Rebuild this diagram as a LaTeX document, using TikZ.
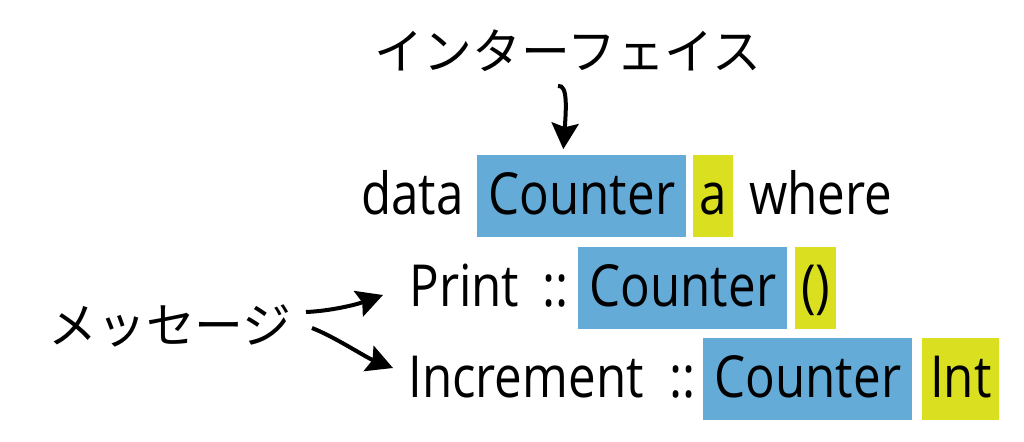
\documentclass[tikz,border=0pt]{standalone}
\usepackage{fontspec}
\setmainfont{Open Sans}[FakeStretch=0.85]
\newfontfamily\jafont{Noto Sans CJK JP}
\usetikzlibrary{arrows.meta}
\definecolor{typeblue}{HTML}{64ABD8}
\definecolor{argyellow}{HTML}{DAE01F}

\begin{document}
\begin{tikzpicture}[x=0.02cm,y=-0.02cm,
  tok/.style={inner sep=0pt,anchor=west,minimum height=1.66cm,text height=1cm,text depth=0.24cm,font=\fontsize{33}{40}\selectfont},
  tybox/.style={tok,fill=typeblue,minimum width=4.18cm},
  argbox/.style={tok,fill=argyellow},
  note/.style={inner sep=0pt,anchor=base,font=\jafont\fontsize{27.8}{32}\selectfont},
  ptr/.style={-{Stealth[length=0.52cm,width=0.54cm,inset=0.08cm]},line width=0.08cm}
]
\useasboundingbox (0,0) rectangle (1024,442);
% data declaration
\node[tok] (kwdata) at (361,196) {data};
\node[tybox] (ty1) at (477,196) {Counter};
\node[argbox,minimum width=0.8cm] (arg1) at (693,196) {a};
\node[tok] (kwwhere) at (749,196) {where};
% constructors
\node[tok] (print) at (409,288) {Print};
\node[tok] (dc1) at (542,288) {::};
\node[tybox] (ty2) at (578,288) {Counter};
\node[argbox,minimum width=0.82cm] (arg2) at (795,288) {()};
\node[tok] (incr) at (408,379) {Increment};
\node[tok] (dc2) at (669,379) {::};
\node[tybox] (ty3) at (703,379) {Counter};
\node[argbox,minimum width=1.54cm] (arg3) at (922,379) {Int};
% notes
\node[note] (iface) at (568,70) {インターフェイス};
\node[note] (msg) at (170,343) {メッセージ};
\coordinate (ifstart) at (558,86);
\coordinate (msgA) at (306,312);
\coordinate (msgB) at (312,328);
\coordinate (toPrint) at (383,295);
\coordinate (toIncr) at (393,368);
\draw[ptr,shorten >=0.1cm] (ifstart) .. controls (568,84) and (566,110) .. (563,0 |- ty1.north);
\draw[ptr] (msgA) .. controls (330,311) and (355,305) .. (toPrint);
\draw[ptr] (msgB) .. controls (335,337) and (365,357) .. (toIncr);
\end{tikzpicture}
\end{document}
